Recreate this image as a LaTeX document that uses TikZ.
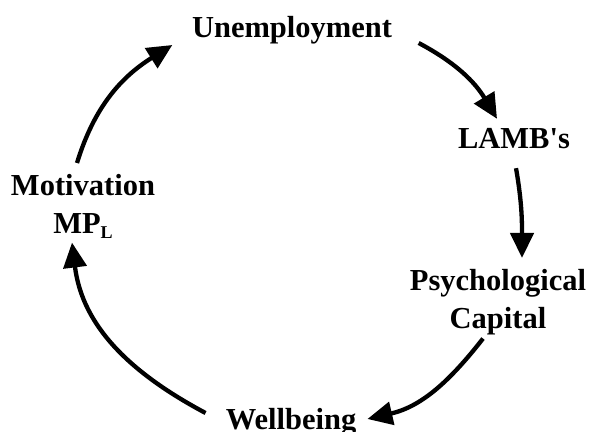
\documentclass[tikz,border=0pt]{standalone}
\usepackage{fontspec}
\setmainfont{Liberation Serif}
\usetikzlibrary{arrows.meta}

\tikzset{
  stage/.style={inner sep=0pt, font=\fontsize{30.5}{38}\selectfont\bfseries, align=center},
  oneline/.style={stage, text height=21pt, text depth=7pt},
  cyc/.style={line width=4.3pt, -{Triangle[length=25pt, width=23pt]}}
}

\begin{document}
\begin{tikzpicture}[x=1pt, y=1pt]
    \useasboundingbox (0,0) rectangle (591,431);
    % Stages of the cycle
    \node[oneline, anchor=base] (unemp) at (292,393) {Unemployment};
    \node[oneline, anchor=base] (lamb)  at (514,282) {\addfontfeature{Ligatures=TeXOff}LAMB's};
    \node[stage, anchor=north]  (psych) at (498,162) {Psychological\\Capital};
    \node[oneline, anchor=base] (well)  at (291,2)   {Wellbeing};
    \node[stage, anchor=north]  (motiv) at (83,257)
      {Motivation\\MP\raisebox{-5pt}{\fontsize{18}{18}\selectfont L}};
    % Cycle arrows
    \draw[cyc] ([shift={(26.5,-12)}]unemp.east) to[out=-28, in=121] ([shift={(-17,9)}]lamb.north);
    \draw[cyc] ([shift={(2,-12)}]lamb.south) to[out=-80, in=90] ([shift={(24,11)}]psych.north);
    \draw[cyc] ([shift={(-15,-3.5)}]psych.south) to[out=-128, in=13] ([shift={(11,3)}]well.east);
    \draw[cyc] ([shift={(-20,9)}]well.west) to[out=152, in=-83] ([shift={(-11,-4)}]motiv.south);
    \draw[cyc] ([shift={(-6,11)}]motiv.north) to[out=73, in=-148] ([shift={(-19.5,-14)}]unemp.west);
\end{tikzpicture}
\end{document}
